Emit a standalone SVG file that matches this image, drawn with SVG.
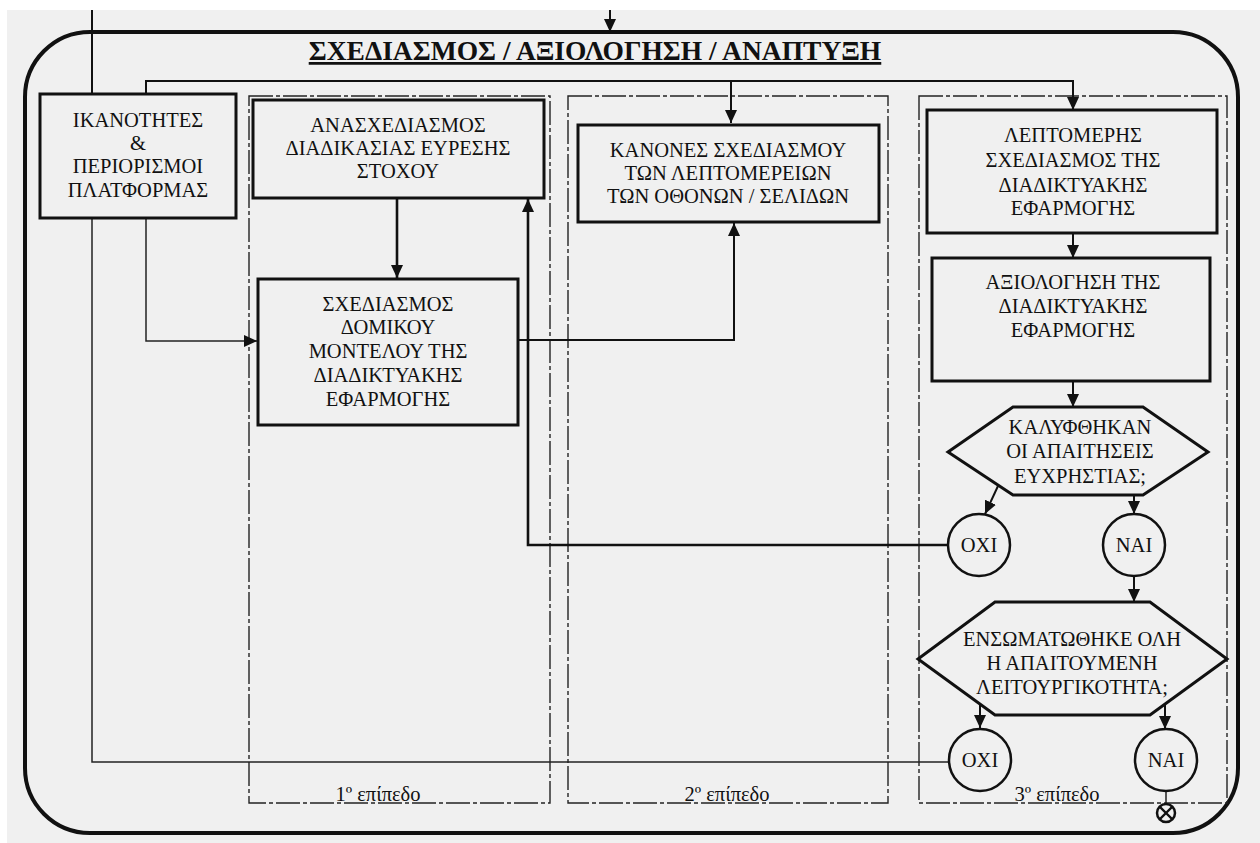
<svg xmlns="http://www.w3.org/2000/svg" width="1260" height="843" viewBox="0 0 1260 843">
<style>
.t{font-family:"Liberation Serif","Times New Roman",serif;font-size:20.5px;text-anchor:middle;fill:#111}
.ttl{font-family:"Liberation Serif","Times New Roman",serif;font-size:27.5px;font-weight:bold;text-anchor:middle;fill:#111;text-decoration:underline}
.box{fill:none;stroke:#111;stroke-width:3}
.circ{fill:none;stroke:#111;stroke-width:2.5}
.lvl{fill:none;stroke:#222;stroke-width:1.4;stroke-dasharray:24 3 4 3}
.c{fill:none;stroke:#111;stroke-width:2}
.thin{fill:none;stroke:#222;stroke-width:1.5}
.thick{fill:none;stroke:#111;stroke-width:2.6}
</style>
<defs>
<marker id="ah" markerUnits="userSpaceOnUse" markerWidth="14" markerHeight="12" refX="13" refY="6" orient="auto">
<path d="M0,0 L13,6 L0,12 z" fill="#111"/>
</marker>
</defs>
<rect x="7" y="10" width="1253" height="833" fill="#f0f0f0"/>
<rect x="25" y="32" width="1213" height="801" rx="65" ry="65" fill="none" stroke="#111" stroke-width="4"/>
<text class="ttl" x="595" y="60">ΣΧΕΔΙΑΣΜΟΣ / ΑΞΙΟΛΟΓΗΣΗ / ΑΝΑΠΤΥΞΗ</text>

<g id="levels">
<rect class="lvl" x="249" y="96" width="301" height="707"/>
<rect class="lvl" x="568" y="96" width="320" height="707"/>
<rect class="lvl" x="919" y="96" width="308" height="707"/>
<text class="t" x="378" y="801">1º επίπεδο</text>
<text class="t" x="727" y="801">2º επίπεδο</text>
<text class="t" x="1057" y="801">3º επίπεδο</text>
</g>

<g id="connectors">
<path class="c" d="M610,10 V32" marker-end="url(#ah)"/>
<path class="c" d="M92,10 V94"/>
<path class="c" d="M146,94 V81 H1073 V110" marker-end="url(#ah)"/>
<path class="c" d="M731,81 V123" marker-end="url(#ah)"/>
<path class="thick" d="M397,198 V278" marker-end="url(#ah)"/>
<path class="thin" d="M146,218 V341 H257" marker-end="url(#ah)"/>
<path class="c" d="M518,340 H734 V223" marker-end="url(#ah)"/>
<path class="thick" d="M948,545 H528 V199" marker-end="url(#ah)"/>
<path class="thin" d="M949,762 H92 V218"/>
<path class="c" d="M1073,233 V258" marker-end="url(#ah)"/>
<path class="c" d="M1073,381 V407" marker-end="url(#ah)"/>
<path class="c" d="M998,486 L985,514" marker-end="url(#ah)"/>
<path class="c" d="M1134,495 V514" marker-end="url(#ah)"/>
<path class="c" d="M1134,576 V602" marker-end="url(#ah)"/>
<path class="c" d="M980,704 V728" marker-end="url(#ah)"/>
<path class="c" d="M1165,704 V729" marker-end="url(#ah)"/>
<path class="thin" d="M1166,791 V804"/>
</g>

<g id="n-ikanotites">
<rect class="box" x="40" y="94" width="196" height="124"/>
<text class="t" x="138" y="127">ΙΚΑΝΟΤΗΤΕΣ</text>
<text class="t" x="138" y="150">&amp;</text>
<text class="t" x="138" y="173">ΠΕΡΙΟΡΙΣΜΟΙ</text>
<text class="t" x="138" y="197">ΠΛΑΤΦΟΡΜΑΣ</text>
</g>

<g id="n-anasxediasmos">
<rect class="box" x="253" y="100" width="291" height="98"/>
<text class="t" x="398" y="132">ΑΝΑΣΧΕΔΙΑΣΜΟΣ</text>
<text class="t" x="398" y="155">ΔΙΑΔΙΚΑΣΙΑΣ ΕΥΡΕΣΗΣ</text>
<text class="t" x="398" y="178">ΣΤΟΧΟΥ</text>
</g>

<g id="n-domikou">
<rect class="box" x="258" y="279" width="260" height="146"/>
<text class="t" x="388" y="311">ΣΧΕΔΙΑΣΜΟΣ</text>
<text class="t" x="388" y="334">ΔΟΜΙΚΟΥ</text>
<text class="t" x="388" y="358">ΜΟΝΤΕΛΟΥ ΤΗΣ</text>
<text class="t" x="388" y="382">ΔΙΑΔΙΚΤΥΑΚΗΣ</text>
<text class="t" x="388" y="406">ΕΦΑΡΜΟΓΗΣ</text>
</g>

<g id="n-kanones">
<rect class="box" x="578" y="125" width="301" height="97"/>
<text class="t" x="728" y="157">ΚΑΝΟΝΕΣ ΣΧΕΔΙΑΣΜΟΥ</text>
<text class="t" x="728" y="180">ΤΩΝ ΛΕΠΤΟΜΕΡΕΙΩΝ</text>
<text class="t" x="728" y="203">ΤΩΝ ΟΘΟΝΩΝ / ΣΕΛΙΔΩΝ</text>
</g>

<g id="n-leptomeris">
<rect class="box" x="927" y="110" width="290" height="123"/>
<text class="t" x="1073" y="142">ΛΕΠΤΟΜΕΡΗΣ</text>
<text class="t" x="1073" y="167">ΣΧΕΔΙΑΣΜΟΣ ΤΗΣ</text>
<text class="t" x="1073" y="192">ΔΙΑΔΙΚΤΥΑΚΗΣ</text>
<text class="t" x="1073" y="215">ΕΦΑΡΜΟΓΗΣ</text>
</g>

<g id="n-axiologisi">
<rect class="box" x="932" y="258" width="278" height="123"/>
<text class="t" x="1073" y="289">ΑΞΙΟΛΟΓΗΣΗ ΤΗΣ</text>
<text class="t" x="1073" y="313">ΔΙΑΔΙΚΤΥΑΚΗΣ</text>
<text class="t" x="1073" y="337">ΕΦΑΡΜΟΓΗΣ</text>
</g>

<g id="n-decision1">
<polygon class="box" points="1013,407 1143,407 1208,452 1143,495 1013,495 948,452"/>
<text class="t" x="1080" y="434">ΚΑΛΥΦΘΗΚΑΝ</text>
<text class="t" x="1080" y="458">ΟΙ ΑΠΑΙΤΗΣΕΙΣ</text>
<text class="t" x="1080" y="483">ΕΥΧΡΗΣΤΙΑΣ;</text>
</g>

<g id="n-oxi1">
<circle class="circ" cx="979" cy="545" r="31"/>
<text class="t" x="979" y="552">ΟΧΙ</text>
</g>

<g id="n-nai1">
<circle class="circ" cx="1134" cy="545" r="31"/>
<text class="t" x="1134" y="552">ΝΑΙ</text>
</g>

<g id="n-decision2">
<polygon class="box" points="995,602 1150,602 1227,659 1150,715 995,715 918,659"/>
<text class="t" x="1072" y="646">ΕΝΣΩΜΑΤΩΘΗΚΕ ΟΛΗ</text>
<text class="t" x="1072" y="670">Η ΑΠΑΙΤΟΥΜΕΝΗ</text>
<text class="t" x="1072" y="694">ΛΕΙΤΟΥΡΓΙΚΟΤΗΤΑ;</text>
</g>

<g id="n-oxi2">
<circle class="circ" cx="980" cy="760" r="31"/>
<text class="t" x="980" y="767">ΟΧΙ</text>
</g>

<g id="n-nai2">
<circle class="circ" cx="1166" cy="760" r="31"/>
<text class="t" x="1166" y="767">ΝΑΙ</text>
</g>

<g id="n-end">
<circle cx="1166" cy="813" r="9" fill="none" stroke="#111" stroke-width="2.5"/>
<path d="M1159.6,806.6 L1172.4,819.4 M1172.4,806.6 L1159.6,819.4" stroke="#111" stroke-width="2.2"/>
</g>
</svg>
